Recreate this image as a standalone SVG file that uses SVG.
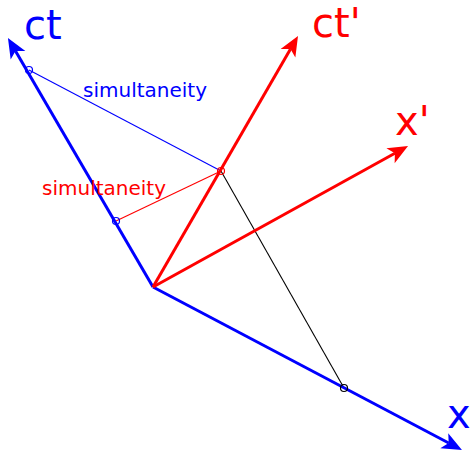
<svg xmlns="http://www.w3.org/2000/svg" width="471" height="453" viewBox="0 0 471 453">
<style>
text{font-family:"DejaVu Sans","Liberation Sans",sans-serif}
.big{font-size:40px}
.small{font-size:20px}
.axis{stroke-width:3;fill:none}
.thin{stroke-width:1.1;fill:none}
.pt{fill:none;stroke-width:1.2}
</style>
<defs>
<marker id="ab" markerUnits="userSpaceOnUse" orient="auto" refX="0" refY="0" markerWidth="40" markerHeight="40" overflow="visible">
<path d="M15,0 L-5,-8.5 L0,0 L-5,8.5 Z" fill="#0000ff"/>
</marker>
<marker id="ar" markerUnits="userSpaceOnUse" orient="auto" refX="0" refY="0" markerWidth="40" markerHeight="40" overflow="visible">
<path d="M15,0 L-5,-8.5 L0,0 L-5,8.5 Z" fill="#ff0000"/>
</marker>
</defs>
<rect width="471" height="453" fill="#ffffff"/>
<g id="connectors">
<line class="thin" x1="29" y1="70" x2="221" y2="171" stroke="#0000ff"/>
<line class="thin" x1="116" y1="221" x2="221" y2="171" stroke="#ff0000"/>
<line class="thin" x1="221" y1="171" x2="344" y2="388" stroke="#000000"/>
</g>
<g id="axis-ct">
<line class="axis" x1="153" y1="287" x2="15.5" y2="51" stroke="#0000ff" marker-end="url(#ab)"/>
<text class="big" x="24" y="39" fill="#0000ff">ct</text>
</g>
<g id="axis-x">
<line class="axis" x1="153" y1="287" x2="448.7" y2="443" stroke="#0000ff" marker-end="url(#ab)"/>
<text class="big" x="447" y="428" fill="#0000ff">x</text>
</g>
<g id="axis-ctp">
<line class="axis" x1="153" y1="287" x2="290.5" y2="49" stroke="#ff0000" marker-end="url(#ar)"/>
<text class="big" x="312" y="37" fill="#ff0000">ct'</text>
</g>
<g id="axis-xp">
<line class="axis" x1="153" y1="287" x2="394.9" y2="153.3" stroke="#ff0000" marker-end="url(#ar)"/>
<text class="big" x="395" y="135" fill="#ff0000">x'</text>
</g>
<g id="label-blue">
<text class="small" x="83" y="97" fill="#0000ff">simultaneity</text>
</g>
<g id="label-red">
<text class="small" x="42" y="195" fill="#ff0000">simultaneity</text>
</g>
<g id="points">
<circle class="pt" cx="29" cy="70" r="3.5" stroke="#0000ff"/>
<circle class="pt" cx="116" cy="221" r="3.5" stroke="#0000ff"/>
<circle class="pt" cx="221" cy="171" r="3.5" stroke="#ff0000"/>
<circle class="pt" cx="344" cy="388" r="3.5" stroke="#000000"/>
</g>
</svg>
